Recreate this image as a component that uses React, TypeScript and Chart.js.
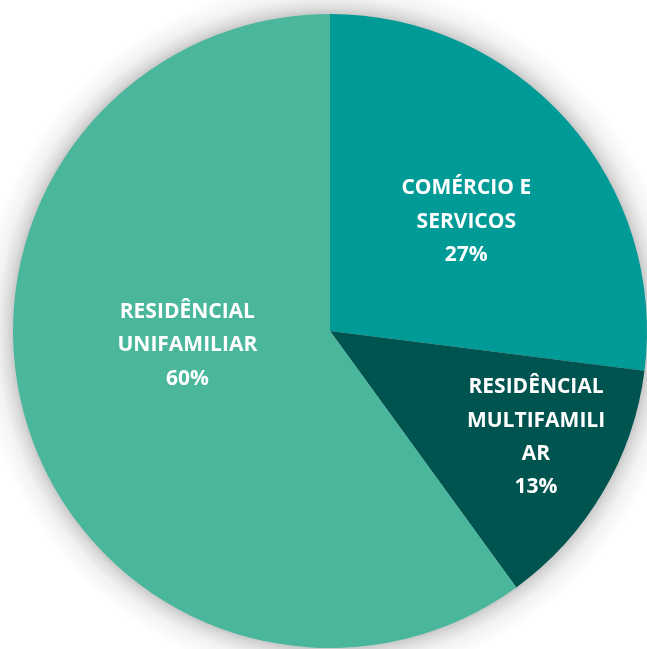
import React, { useEffect, useRef } from "react";
import { Chart, registerables } from "chart.js";

Chart.register(...registerables);

const categories: string[][] = [
  ["COMÉRCIO E", "SERVICOS"],
  ["RESIDÊNCIAL", "MULTIFAMILI", "AR"],
  ["RESIDÊNCIAL", "UNIFAMILIAR"],
];
const values: number[] = [27, 13, 60];
const colors: string[] = ["#009A97", "#005450", "#4AB79C"];
// label anchor offsets relative to pie centre, as fractions of radius
const labelAnchors: [number, number][] = [
  [0.43, -0.345],
  [0.65, 0.335],
  [-0.45, 0.045],
];

const shadowPlugin = {
  id: "pieShadow",
  beforeDatasetsDraw(chart: any) {
    const meta = chart.getDatasetMeta(0);
    const arc = meta.data[0];
    if (!arc) return;
    const x = arc.x;
    const y = arc.y;
    const r = arc.outerRadius;
    const ctx = chart.ctx;
    ctx.save();
    const g = ctx.createRadialGradient(x, y, r - 2, x, y, r + 34);
    g.addColorStop(0, "rgba(0,0,0,0.24)");
    g.addColorStop(0.2, "rgba(0,0,0,0.14)");
    g.addColorStop(0.5, "rgba(0,0,0,0.05)");
    g.addColorStop(1, "rgba(0,0,0,0)");
    ctx.fillStyle = g;
    ctx.beginPath();
    ctx.arc(x, y, r + 34, 0, Math.PI * 2);
    ctx.fill();
    ctx.restore();
  },
};

const labelPlugin = {
  id: "pieLabels",
  afterDatasetsDraw(chart: any) {
    const meta = chart.getDatasetMeta(0);
    const ctx = chart.ctx;
    const total = values.reduce((a, b) => a + b, 0);
    ctx.save();
    ctx.fillStyle = "#ffffff";
    ctx.font = "bold 21px 'Open Sans', sans-serif";
    ctx.textAlign = "center";
    ctx.textBaseline = "middle";
    meta.data.forEach((arc: any, i: number) => {
      const x = arc.x;
      const y = arc.y;
      const r = arc.outerRadius;
      const cx = x + labelAnchors[i][0] * r;
      const cy = y + labelAnchors[i][1] * r;
      const lines = [...categories[i], Math.round((values[i] / total) * 100) + "%"];
      const lh = 33.3;
      const start = cy - ((lines.length - 1) * lh) / 2;
      lines.forEach((t, k) => ctx.fillText(t, cx, start + k * lh));
    });
    ctx.restore();
  },
};

export default function App() {
  const ref = useRef<HTMLCanvasElement | null>(null);
  useEffect(() => {
    document.body.style.margin = "0";
    const canvas = ref.current!;
    const chart = new Chart(canvas, {
      type: "pie",
      data: {
        labels: categories.map((c) => c.join(" ")),
        datasets: [
          {
            data: values,
            backgroundColor: colors,
            borderWidth: 0,
          },
        ],
      },
      options: {
        responsive: false,
        animation: false,
        layout: { padding: { left: 13, top: 14, right: 700 - 647, bottom: 700 - 648 } },
        plugins: {
          legend: { display: false },
          tooltip: { enabled: false },
        },
      },
      plugins: [shadowPlugin, labelPlugin],
    });
    return () => chart.destroy();
  }, []);
  return (
    <div style={{ position: "fixed", left: 0, top: 0, width: 647, height: 649, overflow: "hidden", background: "#fff" }}>
      <canvas ref={ref} width={700} height={700} style={{ width: 700, height: 700 }} />
    </div>
  );
}
